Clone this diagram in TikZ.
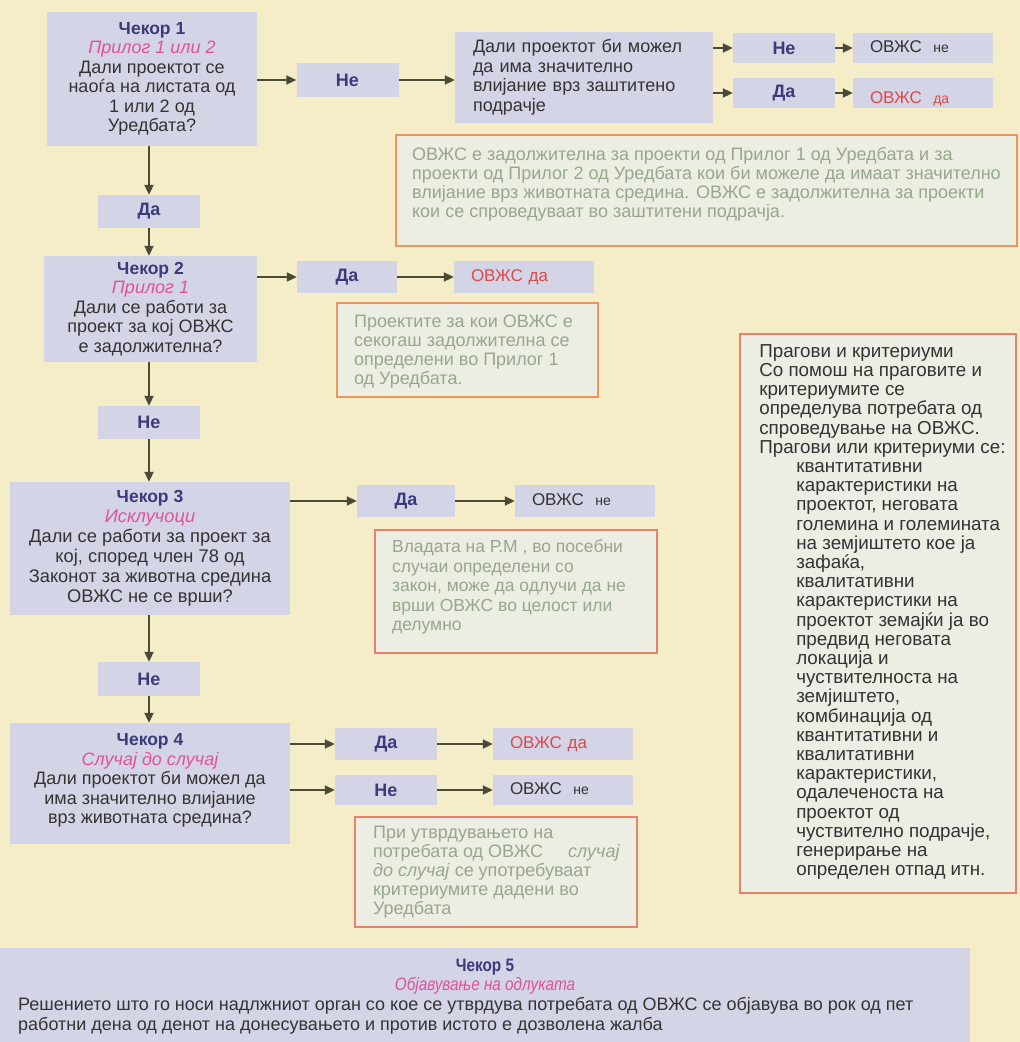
\documentclass[tikz,border=0pt]{standalone}
\usepackage{fontspec}
\setmainfont{Liberation Sans}
\newfontfamily\narrowf{Liberation Sans}[FakeStretch=0.85]
\usetikzlibrary{arrows.meta,calc}
\definecolor{bg}{HTML}{F4EDC8}
\definecolor{lav}{HTML}{D4D4E7}
\definecolor{notebg}{HTML}{ECEEE3}
\definecolor{noteor}{HTML}{F0935C}
\definecolor{notered}{HTML}{E8806A}
\definecolor{notetxt}{HTML}{98A58F}
\definecolor{ttl}{HTML}{3B3A7A}
\definecolor{pinkc}{HTML}{E0529A}
\definecolor{bodytxt}{HTML}{333333}
\definecolor{redc}{HTML}{E04848}
\definecolor{arrc}{HTML}{4A4A38}
\newcommand{\sm}[1]{{\fontsize{14}{16}\selectfont #1}}
\begin{document}
\begin{tikzpicture}[x=1pt,y=-1pt,
  lavbox/.style={fill=lav, inner sep=0pt},
  stepbox/.style={lavbox, align=center, text=bodytxt, font=\fontsize{18}{19.5}\selectfont},
  yn/.style={lavbox, font=\fontsize{18}{19}\selectfont\bfseries, text=ttl, minimum width=102pt, minimum height=31pt},
  res/.style={lavbox, inner xsep=17pt, text width=106pt, align=left, minimum height=31pt, text height=12pt, text depth=3pt, font=\fontsize{17}{19}\selectfont, text=bodytxt},
  note/.style={fill=notebg, draw=noteor, line width=2.2pt, inner sep=0pt},
  notetext/.style={anchor=north west, inner sep=0pt, align=left, text=notetxt, font=\fontsize{18}{19}\selectfont},
  arr/.style={draw=arrc, line width=2pt, -{Triangle[length=10pt,width=9pt]}},
]
\useasboundingbox (0,0) rectangle (1020,1042);
\fill[bg] (0,0) rectangle (1020,1042);

% ---- Step 1
\node[stepbox, minimum width=210pt, minimum height=134pt] (s1) at (152,79)
  {\textbf{\textcolor{ttl}{\fontsize{17.5}{19.5}\selectfont Чекор 1}}\\ \textit{\textcolor{pinkc}{Прилог 1 или 2}}\\ Дали проектот се\\ наоѓа на листата од\\ 1 или 2 од\\ Уредбата?};
\node[yn, minimum height=34pt] (ne1) at (347.5,80) {Не};
\node[lavbox, minimum width=258pt, minimum height=91pt, inner xsep=18pt, text width=222pt, align=left, text=bodytxt, font=\fontsize{18}{19.5}\selectfont] (q1) at (584,77.5)
  {Дали проектот би можел\\ да има значително\\ влијание врз заштитено\\ подрачје};
\node[yn, minimum height=30pt] (neb) at (784,48) {Не};
\node[yn, minimum height=30pt] (dab) at (784,93) {Да};
\node[res, minimum height=30pt] (r1ne) at (923,48) {ОВЖС\ \ \sm{не}};
\node[res, minimum height=30pt, text=redc] (r1da) at (923,93) {\raisebox{-6pt}{ОВЖС\ \ \sm{да}}};
\node[note, minimum width=621pt, minimum height=111pt] (n1) at (706.5,190.5) {};
\node[notetext] (n1t) at ($(n1.north west)+(17,13)$)
  {ОВЖС е задолжителна за проекти од Прилог 1 од Уредбата и за\\
   проекти од Прилог 2 од Уредбата кои би можеле да имаат значително\\
   влијание врз животната средина. ОВЖС е задолжителна за проекти\\
   кои се спроведуваат во заштитени подрачја.};

\draw[arr] (s1.east |- ne1) -- (ne1.west);
\draw[arr] (ne1.east) -- (q1.west |- ne1);
\draw[arr] (q1.east |- neb) -- (neb.west);
\draw[arr] (q1.east |- dab) -- (dab.west);
\draw[arr] (neb.east) -- (r1ne.west);
\draw[arr] (dab.east) -- (r1da.west);

% ---- Step 2
\node[yn, minimum height=33pt] (da2) at (149,211.5) {Да};
\node[stepbox, minimum width=213pt, minimum height=106pt] (s2) at (150.5,309)
  {\textbf{\textcolor{ttl}{\fontsize{17.5}{19.5}\selectfont Чекор 2}}\\ \textit{\textcolor{pinkc}{Прилог 1}}\\ Дали се работи за\\ проект за кој ОВЖС\\ е задолжителна?};
\node[yn, minimum width=100pt, minimum height=32pt] (da3) at (347,277) {Да};
\node[res, minimum height=32pt, text=redc] (r2) at (524,277) {ОВЖС да};
\node[note, minimum width=261pt, minimum height=94pt] (n2) at (467.5,350) {};
\node[notetext] (n2t) at ($(n2.north west)+(18,13)$)
  {Проектите за кои ОВЖС е\\ секогаш задолжителна се\\ определени во Прилог 1\\ од Уредбата.};
\draw[arr] (s1.south -| da2) -- (da2.north);
\draw[arr] (da2.south) -- (s2.north -| da2);
\draw[arr] (s2.east |- da3) -- (da3.west);
\draw[arr] (da3.east) -- (r2.west);

% ---- Step 3
\node[yn, minimum height=33pt] (ne2) at (149,422.5) {Не};
\node[stepbox, minimum width=280pt, minimum height=133pt, font=\fontsize{18.3}{20}\selectfont] (s3) at (150,548.5)
  {\textbf{\textcolor{ttl}{\fontsize{17.5}{20}\selectfont Чекор 3}}\\ \textit{\textcolor{pinkc}{Исклучоци}}\\ Дали се работи за проект за\\ кој, според член 78 од\\ Законот за животна средина\\ ОВЖС не се врши?};
\node[yn, minimum width=98pt, minimum height=32pt] (da4) at (406,501) {Да};
\node[res, minimum height=32pt] (r3) at (585,501) {ОВЖС\ \ \sm{не}};
\node[note, draw=notered, minimum width=282pt, minimum height=123pt] (n3) at (516,591.5) {};
\node[notetext, font=\fontsize{17.5}{19.5}\selectfont] (n3t) at ($(n3.north west)+(18,11)$)
  {Владата на Р.М , во посебни\\ случаи определени со\\ закон, може да одлучи да не\\ врши ОВЖС во целост или\\ делумно};
\draw[arr] (s2.south -| ne2) -- (ne2.north);
\draw[arr] (ne2.south) -- (s3.north -| ne2);
\draw[arr] (s3.east |- da4) -- (da4.west);
\draw[arr] (da4.east) -- (r3.west);

% ---- Step 4
\node[yn, minimum height=34pt] (ne3) at (149,679) {Не};
\node[stepbox, minimum width=280pt, minimum height=121pt, font=\fontsize{18}{19.5}\selectfont] (s4) at (150,783.5)
  {\textbf{\textcolor{ttl}{\fontsize{17.5}{19.5}\selectfont Чекор 4}}\\ \textit{\textcolor{pinkc}{Случај до случај}}\\ Дали проектот би можел да\\ има значително влијание\\ врз животната средина?\\[-9.5pt]};
\node[yn, minimum height=32pt] (da5) at (386,744) {Да};
\node[yn, minimum height=30pt] (ne5) at (386,790) {Не};
\node[res, minimum height=32pt, text=redc] (r4da) at (563,744) {ОВЖС да};
\node[res, minimum height=30pt] (r4ne) at (563,790) {ОВЖС\ \ \sm{не}};
\node[note, draw=notered, minimum width=282pt, minimum height=110pt] (n4) at (496,872) {};
\node[notetext] (n4t) at ($(n4.north west)+(19,10)$)
  {При утврдувањето на\\ потребата од ОВЖС\hspace{25pt}\textit{случај}\\ \textit{до случај} се употребуваат\\ критериумите дадени во\\ Уредбата};
\draw[arr] (s3.south -| ne3) -- (ne3.north);
\draw[arr] (ne3.south) -- (s4.north -| ne3);
\draw[arr] (s4.east |- da5) -- (da5.west);
\draw[arr] (s4.east |- ne5) -- (ne5.west);
\draw[arr] (da5.east) -- (r4da.west);
\draw[arr] (ne5.east) -- (r4ne.west);

% ---- Right box
\node[note, draw=notered, line width=1.8pt, minimum width=276pt, minimum height=559pt] (rb) at (878,613.5) {};
\node[anchor=north west, inner sep=0pt, align=left, text=bodytxt, font=\fontsize{18.8}{19.2}\selectfont] (rbt) at ($(rb.north west)+(20,11)$)
  {Прагови и критериуми\\ Со помош на праговите и\\ критериумите се\\ определува потребата од\\ спроведување на ОВЖС.\\ Прагови или критериуми се:\\
   \hspace{37pt}квантитативни\\ \hspace{37pt}карактеристики на\\ \hspace{37pt}проектот, неговата\\ \hspace{37pt}големина и големината\\
   \hspace{37pt}на земјиштето кое ја\\ \hspace{37pt}зафаќа,\\ \hspace{37pt}квалитативни\\ \hspace{37pt}карактеристики на\\
   \hspace{37pt}проектот земајќи ја во\\ \hspace{37pt}предвид неговата\\ \hspace{37pt}локација и\\ \hspace{37pt}чуствителноста на\\
   \hspace{37pt}земјиштето,\\ \hspace{37pt}комбинација од\\ \hspace{37pt}квантитативни и\\ \hspace{37pt}квалитативни\\
   \hspace{37pt}карактеристики,\\ \hspace{37pt}одалеченоста на\\ \hspace{37pt}проектот од\\ \hspace{37pt}чуствително подрачје,\\
   \hspace{37pt}генерирање на\\ \hspace{37pt}определен отпад итн.};

% ---- Step 5
\node[lavbox, minimum width=970pt, minimum height=94pt] (s5) at (485,995) {};
\node[inner sep=0pt, font=\narrowf\fontsize{18}{20}\selectfont\bfseries, text=ttl] (s5a) at (485,967) {Чекор 5};
\node[inner sep=0pt, font=\narrowf\fontsize{18}{20}\selectfont\itshape, text=pinkc] (s5b) at (485,986) {Објавување на одлуката};
\node[anchor=north west, inner sep=0pt, align=left, text=bodytxt, font=\fontsize{18}{20}\selectfont] (s5c) at (18,997)
  {Решението што го носи надлжниот орган со кое се утврдува потребата од ОВЖС се објавува во рок од пет\\
   работни дена од денот на донесувањето и против истото е дозволена жалба};
\end{tikzpicture}
\end{document}
